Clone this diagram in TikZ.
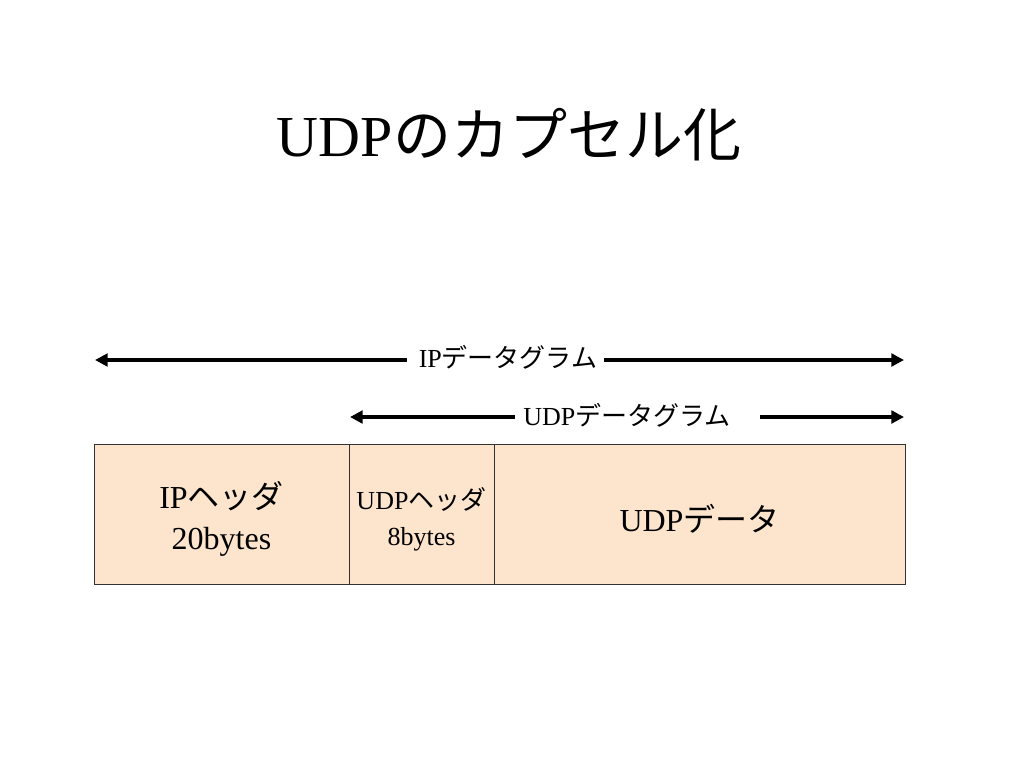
\documentclass[tikz,border=0pt]{standalone}
\usepackage{fontspec}
\setmainfont{Liberation Serif}
\newfontfamily\jp{Noto Sans CJK JP}
\usetikzlibrary{positioning, arrows.meta}
\definecolor{peach}{RGB}{252,228,205}
\definecolor{edgegray}{RGB}{50,50,50}
\tikzstyle{seg}=[%
      rectangle, draw=edgegray, line width=0.6pt, fill=peach,
      minimum height=105pt, inner sep=0pt, outer sep=0pt, align=center
]
\tikzstyle{span}=[%
      line width=3pt, -{Triangle[length=9.5pt,width=9.5pt]}
]
\tikzstyle{lbl}=[%
      inner sep=0pt, anchor=base, font=\fontsize{19.5}{23}\selectfont
]
\begin{document}
\begin{tikzpicture}[x=0.75pt, y=-0.75pt]
    \fill[white] (0,0) rectangle (1024,768);
    \useasboundingbox (0,0) rectangle (1024,768);

    \node[anchor=base, font=\fontsize{43.5}{50}\selectfont] (title) at (509,156) {UDP{\jp のカプセル化}};

    % arrows
    \coordinate (ipL) at (95,360);
    \coordinate (ipR) at (904,360);
    \coordinate (udpL) at (350,417);
    \coordinate (udpR0) at (760,417);
    \coordinate (udpR) at (904,417);
    \node[lbl] (ipdg) at (508,367) {IP{\jp データグラム}};
    \node[lbl] (udpdg) at (627,425) {UDP{\jp データグラム}};

    \draw[span, shorten <=9pt] (ipdg.west |- ipL) -- (ipL);
    \draw[span, shorten <=5pt] (ipdg.east |- ipR) -- (ipR);
    \draw[span, shorten <=6pt] (udpdg.west |- udpL) -- (udpL);
    \draw[span] (udpR0) -- (udpR);

    % packet
    \node[seg, minimum width=191.25pt, anchor=north west, font=\fontsize{24}{30.75}\selectfont] (iphdr) at (94,444) {\rule{0pt}{28pt}IP{\jp ヘッダ}\\20bytes};
    \node[seg, minimum width=108.75pt, font=\fontsize{19.5}{27}\selectfont] (udphdr) [right=0pt of iphdr] {\rule{0pt}{25pt}UDP{\jp ヘッダ}\\8bytes};
    \node[seg, minimum width=308.25pt, font=\fontsize{24}{29}\selectfont] (udpdata) [right=0pt of udphdr] {\rule{0pt}{27pt}UDP{\jp データ}};
\end{tikzpicture}
\end{document}
